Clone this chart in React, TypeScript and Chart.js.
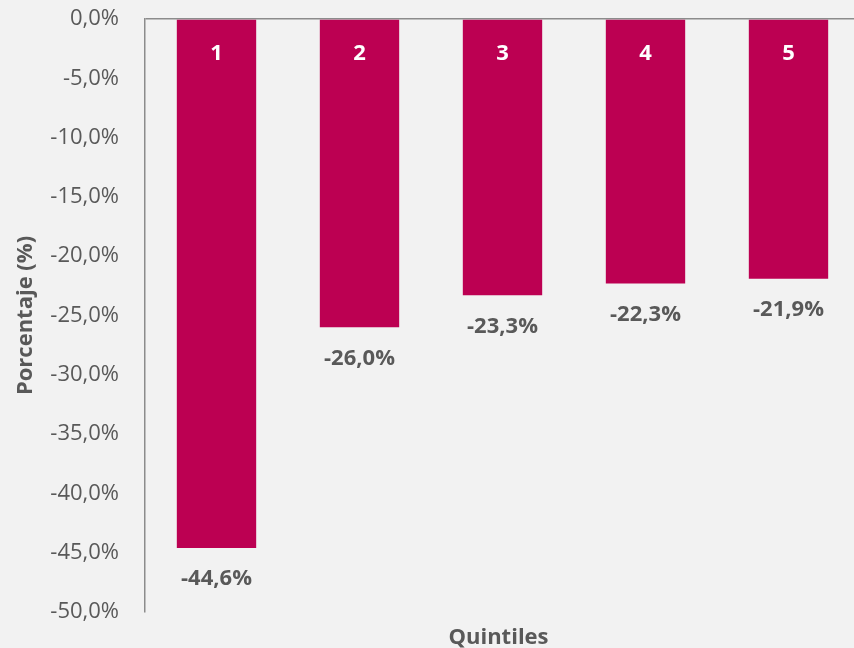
import React, { useEffect, useRef } from "react";
import { Chart, registerables } from "chart.js";

Chart.register(...registerables);

const categories = ["1", "2", "3", "4", "5"];
const values = [-44.6, -26.0, -23.3, -22.3, -21.9];
const yMin = -50;
const yMax = 0;
const yStep = 5;
const xTitle = "Quintiles";
const yTitle = "Porcentaje (%)";

const FONT = "'Open Sans', 'DejaVu Sans', sans-serif";
const BAR = "#BC0052";
const GRAY = "#595959";

const fmt = (v: number) => v.toFixed(1).replace(".", ",") + "%";

const labelPlugin = {
  id: "barLabels",
  afterDatasetsDraw(chart: any) {
    const ctx = chart.ctx;
    const meta = chart.getDatasetMeta(0);
    const area = chart.chartArea;
    ctx.save();
    ctx.textAlign = "center";
    ctx.textBaseline = "middle";
    ctx.font = `bold 22px ${FONT}`;
    meta.data.forEach((bar: any, i: number) => {
      ctx.fillStyle = "#ffffff";
      ctx.fillText(categories[i], bar.x, area.top + 35);
      ctx.fillStyle = GRAY;
      ctx.fillText(fmt(values[i]), bar.x, bar.y + 31);
    });
    ctx.fillStyle = GRAY;
    ctx.fillText(xTitle, (area.left + area.right) / 2 - 4, area.bottom + 26);
    ctx.restore();
  },
};

export default function App() {
  const ref = useRef<HTMLCanvasElement>(null);
  useEffect(() => {
    const chart = new Chart(ref.current!, {
      type: "bar",
      data: {
        labels: categories,
        datasets: [
          {
            data: values,
            backgroundColor: BAR,
            categoryPercentage: 1,
            barPercentage: 0.555,
          },
        ],
      },
      options: {
        animation: false,
        responsive: false,
        maintainAspectRatio: false,
        layout: { padding: { top: 0, left: 0, right: 0, bottom: 0 } },
        plugins: { legend: { display: false }, tooltip: { enabled: false } },
        scales: {
          x: {
            grid: { display: false },
            border: { display: false },
            ticks: { display: false },
            afterFit(scale: any) {
              scale.height = 36;
            },
          },
          y: {
            min: yMin,
            max: yMax,
            ticks: {
              stepSize: yStep,
              color: GRAY,
              font: { family: FONT, size: 22 },
              padding: 26,
              callback: (v: any) => fmt(Number(v)),
            },
            grid: {
              drawTicks: false,
              color: (c: any) => (c.tick && c.tick.value === 0 ? "#8c8c8c" : "rgba(0,0,0,0)"),
              lineWidth: 1.5,
            },
            border: { display: true, color: "#8c8c8c", width: 1.5 },
            title: {
              display: true,
              text: yTitle,
              color: GRAY,
              font: { family: FONT, size: 22, weight: "bold" },
              padding: { top: 13, bottom: 0 },
            },
            afterFit(scale: any) {
              scale.width = 145;
              scale.paddingTop = 19;
              scale.paddingBottom = 0;
            },
          },
        },
      },
      plugins: [labelPlugin],
    });
    return () => chart.destroy();
  }, []);
  return (
    <div
      style={{
        position: "fixed",
        left: 0,
        top: 0,
        width: 854,
        height: 648,
        overflow: "hidden",
        background: "#f2f2f2",
      }}
    >
      <canvas ref={ref} width={860} height={648} style={{ display: "block", width: 860, height: 648 }} />
    </div>
  );
}
